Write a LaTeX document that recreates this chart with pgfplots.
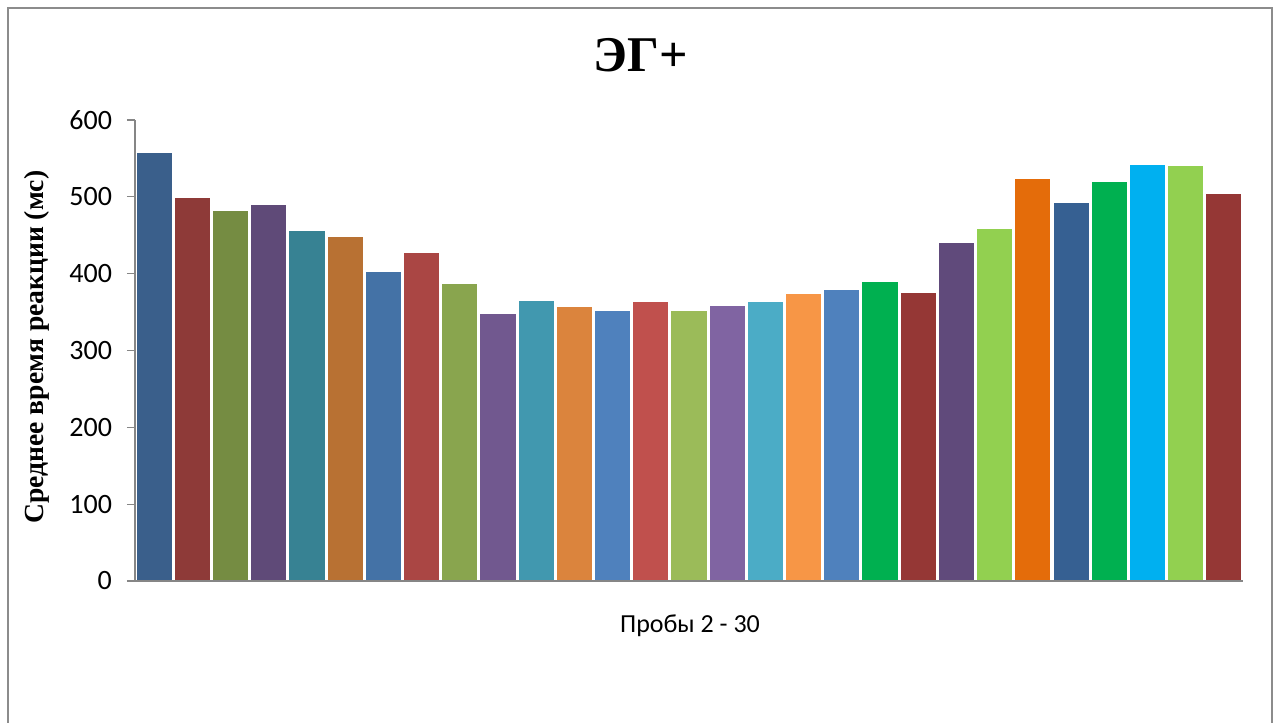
\documentclass[border=0pt]{standalone}
\usepackage{pgfplots}
\pgfplotsset{compat=1.18}
\usepackage{fontspec}
\setmainfont{Carlito}
\newfontfamily\tnr{Liberation Serif}

\definecolor{axgray}{HTML}{868686}
\definecolor{framegray}{HTML}{8C8C8C}
\definecolor{c1}{HTML}{3A5F8B}
\definecolor{c2}{HTML}{8E3A38}
\definecolor{c3}{HTML}{758C42}
\definecolor{c4}{HTML}{5F4A78}
\definecolor{c5}{HTML}{378293}
\definecolor{c6}{HTML}{B87133}
\definecolor{c7}{HTML}{4472A6}
\definecolor{c8}{HTML}{AA4644}
\definecolor{c9}{HTML}{89A54E}
\definecolor{c10}{HTML}{71588F}
\definecolor{c11}{HTML}{4198AF}
\definecolor{c12}{HTML}{DB843D}
\definecolor{c13}{HTML}{4F81BD}
\definecolor{c14}{HTML}{C0504D}
\definecolor{c15}{HTML}{9BBB59}
\definecolor{c16}{HTML}{8064A2}
\definecolor{c17}{HTML}{4BACC6}
\definecolor{c18}{HTML}{F79646}
\definecolor{c19}{HTML}{4F81BD}
\definecolor{c20}{HTML}{00B050}
\definecolor{c21}{HTML}{953735}
\definecolor{c22}{HTML}{604A7B}
\definecolor{c23}{HTML}{92D050}
\definecolor{c24}{HTML}{E46C0A}
\definecolor{c25}{HTML}{366092}
\definecolor{c26}{HTML}{00B050}
\definecolor{c27}{HTML}{00B0F0}
\definecolor{c28}{HTML}{92D050}
\definecolor{c29}{HTML}{953735}

\begin{document}
\begin{tikzpicture}
\useasboundingbox (0,0) rectangle (640pt,361.5pt);
% chart frame (bottom edge lies below the page)
\draw[framegray, line width=1pt] (4pt,-10pt) -- (4pt,357.5pt) -- (636pt,357.5pt) -- (636pt,-10pt);

\begin{axis}[
  at={(67.5pt,71pt)}, anchor=south west,
  scale only axis, width=554pt, height=230.5pt,
  xmin=0.5, xmax=29.5, ymin=0, ymax=600,
  ybar, bar width=0.92, bar shift=0pt,
  axis x line*=bottom, axis y line*=left,
  axis line style={-},
  x axis line style={axgray, line width=1pt},
  y axis line style={axgray, line width=0.6pt},
  xtick=\empty,
  ytick={0,100,200,300,400,500,600},
  tick align=outside, major tick length=4pt,
  tick style={axgray, line width=0.6pt},
  yticklabel style={font=\fontsize{14}{16}\selectfont, black, xshift=-4pt},
  /pgf/number format/assume math mode=true,
  axis on top,
  every axis plot/.append style={draw=none},
]
\addplot[fill=c1]  coordinates {(1,557)};
\addplot[fill=c2]  coordinates {(2,498)};
\addplot[fill=c3]  coordinates {(3,482)};
\addplot[fill=c4]  coordinates {(4,490)};
\addplot[fill=c5]  coordinates {(5,455)};
\addplot[fill=c6]  coordinates {(6,448)};
\addplot[fill=c7]  coordinates {(7,402)};
\addplot[fill=c8]  coordinates {(8,427)};
\addplot[fill=c9]  coordinates {(9,386)};
\addplot[fill=c10] coordinates {(10,347)};
\addplot[fill=c11] coordinates {(11,365)};
\addplot[fill=c12] coordinates {(12,356)};
\addplot[fill=c13] coordinates {(13,351)};
\addplot[fill=c14] coordinates {(14,363)};
\addplot[fill=c15] coordinates {(15,351)};
\addplot[fill=c16] coordinates {(16,358)};
\addplot[fill=c17] coordinates {(17,363)};
\addplot[fill=c18] coordinates {(18,374)};
\addplot[fill=c19] coordinates {(19,379)};
\addplot[fill=c20] coordinates {(20,389)};
\addplot[fill=c21] coordinates {(21,375)};
\addplot[fill=c22] coordinates {(22,440)};
\addplot[fill=c23] coordinates {(23,458)};
\addplot[fill=c24] coordinates {(24,523)};
\addplot[fill=c25] coordinates {(25,492)};
\addplot[fill=c26] coordinates {(26,519)};
\addplot[fill=c27] coordinates {(27,541)};
\addplot[fill=c28] coordinates {(28,540)};
\addplot[fill=c29] coordinates {(29,504)};
\end{axis}

\node[anchor=base, font=\tnr\bfseries\fontsize{25}{30}\selectfont] at (320.5pt,325.5pt) {ЭГ+};
\node[anchor=base, font=\fontsize{13}{15}\selectfont] at (345pt,45pt) {Пробы 2 - 30};
\node[rotate=90, font=\tnr\bfseries\fontsize{13.8}{16}\selectfont] at (18.5pt,188pt) {Среднее время реакции (мс)};
\end{tikzpicture}
\end{document}
